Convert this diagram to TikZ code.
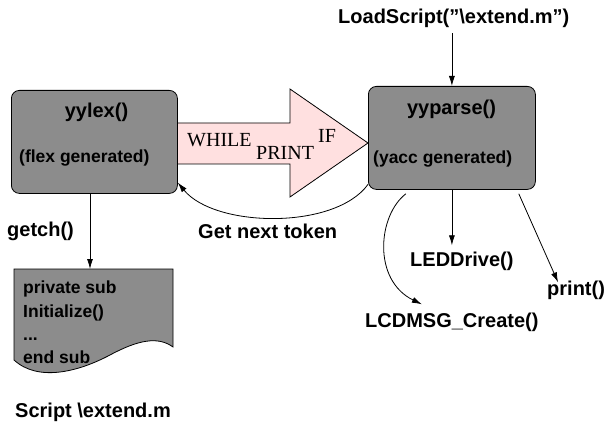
\documentclass[tikz,border=0pt]{standalone}
\usepackage{fontspec}
\setmainfont{Liberation Sans}
\newfontfamily\serifx{Liberation Serif}
\usetikzlibrary{arrows.meta}
\definecolor{boxgray}{RGB}{140,140,140}
\definecolor{pinkfill}{RGB}{255,224,224}
\begin{document}
\begin{tikzpicture}[x=1pt,y=-1pt,
  box/.style={draw, fill=boxgray, rounded corners=8pt, line width=0.8pt, anchor=north west, inner sep=0pt},
  lbl/.style={font=\fontsize{20}{24}\selectfont\bfseries, inner sep=0pt},
  intxt/.style={font=\fontsize{17.5}{21}\selectfont\bfseries, inner sep=0pt, anchor=base west},
  kw/.style={font=\fontsize{20}{24}\selectfont\serifx, inner sep=0pt, anchor=base west},
  arr/.style={-{Latex[length=10pt,width=6pt]}, line width=0.8pt}]
\useasboundingbox (0,0) rectangle (607,422);

% big arrow
\draw[fill=pinkfill, line width=0.8pt] (177,123) -- (290,123) -- (290,89) -- (368,143) -- (290,197) -- (290,164) -- (177,164) -- cycle;
\node[kw] (kwhile) at (187,147) {WHILE};
\node[kw] (kprint) at (256,160) {PRINT};
\node[kw] (kif) at (318,143) {IF};

% boxes
\node[box, minimum width=166pt, minimum height=103pt] (yylex) at (11,90) {};
\node[box, minimum width=167pt, minimum height=103pt] (yyparse) at (368,86) {};
\node[lbl, anchor=base] (lexname) at (96.5,118) {yylex()};
\node[intxt] (lexsub) at (19,163) {(flex generated)};
\node[lbl, anchor=base] (parsename) at (451.5,115) {yyparse()};
\node[intxt] (parsesub) at (373,164) {(yacc generated)};

% document
\draw[fill=boxgray, line width=0.8pt] (14,269) -- (173,269) -- (173,347)
  .. controls (158,336) and (138,340) .. (110,355)
  .. controls (78,372) and (38,382) .. (14,360) -- cycle;
\coordinate (doctop) at (90,269);
\node[intxt] (d1) at (23,293) {private sub};
\node[intxt] (d2) at (23,317) {Initialize()};
\node[intxt] (d3) at (23,340) {...};
\node[intxt] (d4) at (23,363) {end sub};

% labels
\node[lbl, anchor=base west] (load) at (338,24) {LoadScript(\symbol{34}\textbackslash extend.m\symbol{34})};
\node[lbl, anchor=base west] (getch) at (7,236) {getch()};
\node[lbl, anchor=base west] (script) at (15,417) {Script \textbackslash extend.m};
\node[lbl, anchor=base west] (gnt) at (198,238) {Get next token};
\node[lbl, anchor=base west] (led) at (410,266) {LEDDrive()};
\node[lbl, anchor=base west] (prt) at (547,295) {print()};
\node[lbl, anchor=base west] (lcd) at (365,327) {LCDMSG\_Create()};

% connectors
\draw[arr] ([yshift=-5pt]yyparse.north |- load.south) -- (yyparse.north);
\draw[arr] (yylex.south -| doctop) -- (doctop);
\draw[arr] (yyparse.209) .. controls (335,230) and (215,228) .. (yylex.-26);
\draw[arr] (yyparse.south) -- ([yshift=6pt]yyparse.south |- led.north);
\draw[arr] ([xshift=-17pt,yshift=-4pt]yyparse.south east) -- ([xshift=-18pt,yshift=-2pt]prt.north);
\draw[arr] ([xshift=-46pt,yshift=-4pt]yyparse.south) .. controls (378,215) and (372,280) .. ([xshift=-30pt,yshift=8pt]lcd.north);
\end{tikzpicture}
\end{document}
